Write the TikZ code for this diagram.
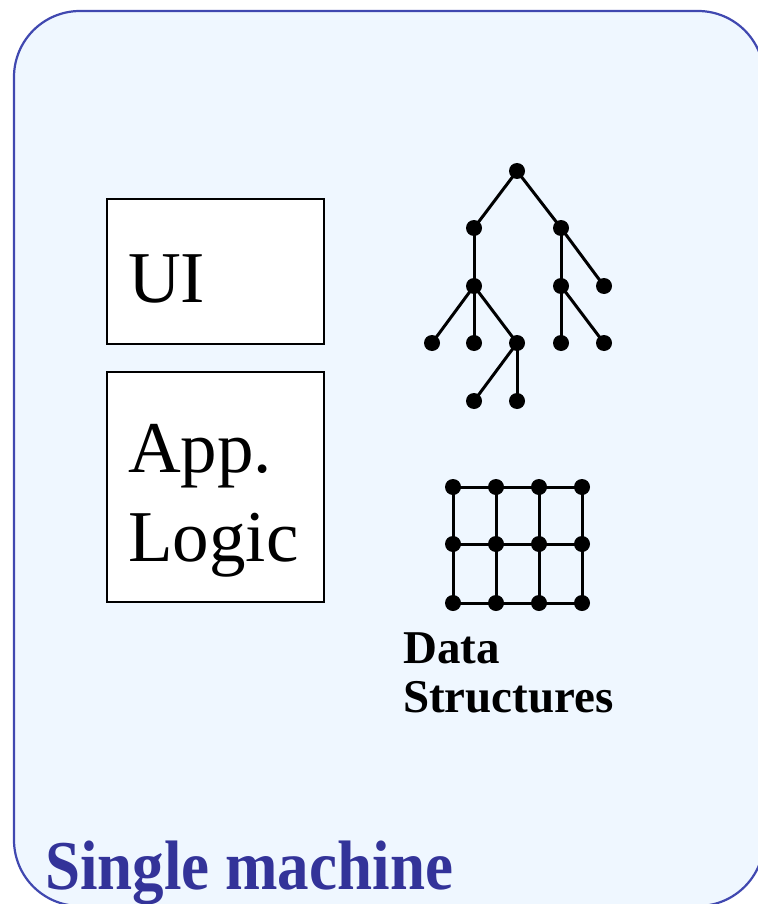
\documentclass[tikz,border=0pt]{standalone}
\usepackage{fontspec}
\setmainfont{Liberation Serif}
\definecolor{panelfill}{RGB}{239,247,255}
\definecolor{panelline}{RGB}{64,72,176}
\definecolor{titleblue}{RGB}{51,51,153}
\tikzset{
  panel/.style={draw=panelline, fill=panelfill, line width=2.2pt, rounded corners=66pt},
  layerbox/.style={draw=black, fill=white, line width=2pt, inner sep=0pt},
  dot/.style={circle, fill=black, inner sep=0pt, minimum size=16pt},
  edge/.style={line width=3pt, draw=black},
  bigtext/.style={anchor=base west, inner sep=0pt, font=\fontsize{73}{88}\selectfont},
  dstext/.style={anchor=base west, inner sep=0pt, font=\fontsize{47}{56}\selectfont\bfseries},
  titletext/.style={anchor=base west, inner sep=0pt, text=titleblue, font=\fontsize{70}{84}\selectfont\bfseries}
}
\begin{document}
\begin{tikzpicture}[x=1pt,y=-1pt]
\useasboundingbox (0,0) rectangle (757,904);
\draw[panel] (14,11) rectangle (764,906);

% layer boxes
\node[layerbox, minimum width=217pt, minimum height=145pt] (ui) at (215.5,271.5) {};
\node[layerbox, minimum width=217pt, minimum height=230pt] (logic) at (215.5,487) {};
\node[bigtext] (uitext) at (128,302) {UI};
\node[bigtext] (apptext) at (128,472) {App.};
\node[bigtext] (logictext) at (128,561) {Logic};

% tree edges
\coordinate (t0) at (517,171);
\coordinate (l1) at (474,228);
\coordinate (r1) at (561,228);
\coordinate (l2) at (474,286);
\coordinate (r2) at (561,286);
\coordinate (rr) at (604,286);
\coordinate (a3) at (432,343);
\coordinate (b3) at (474,343);
\coordinate (c3) at (517,343);
\coordinate (d3) at (561,343);
\coordinate (e3) at (604,343);
\coordinate (a4) at (474,401);
\coordinate (b4) at (517,401);
\draw[edge] (t0) -- (l1);
\draw[edge] (t0) -- (r1);
\draw[edge] (l1) -- (l2);
\draw[edge] (r1) -- (r2);
\draw[edge] (r1) -- (rr);
\draw[edge] (l2) -- (a3);
\draw[edge] (l2) -- (b3);
\draw[edge] (l2) -- (c3);
\draw[edge] (r2) -- (d3);
\draw[edge] (r2) -- (e3);
\draw[edge] (c3) -- (a4);
\draw[edge] (c3) -- (b4);

% grid
\foreach \i/\x in {1/453,2/496,3/539,4/582}{
  \foreach \j/\y in {1/487,2/544,3/603}{
    \coordinate (g\i\j) at (\x,\y);
  }
}
\foreach \j in {1,2,3}{
  \draw[edge] (g1\j) -- (g2\j) -- (g3\j) -- (g4\j);
}
\foreach \i in {1,2,3,4}{
  \draw[edge] (g\i1) -- (g\i2) -- (g\i3);
}
% dots
\foreach \n in {t0,l1,r1,l2,r2,rr,a3,b3,c3,d3,e3,a4,b4,g11,g12,g13,g21,g22,g23,g31,g32,g33,g41,g42,g43}{
  \node[dot] (d\n) at (\n) {};
}

\node[dstext] (ds1) at (403,663) {Data};
\node[dstext] (ds2) at (403,712) {Structures};

\node[titletext] (title) at (45,889) {\scalebox{0.9}[1]{Single machine}};
\end{tikzpicture}
\end{document}
